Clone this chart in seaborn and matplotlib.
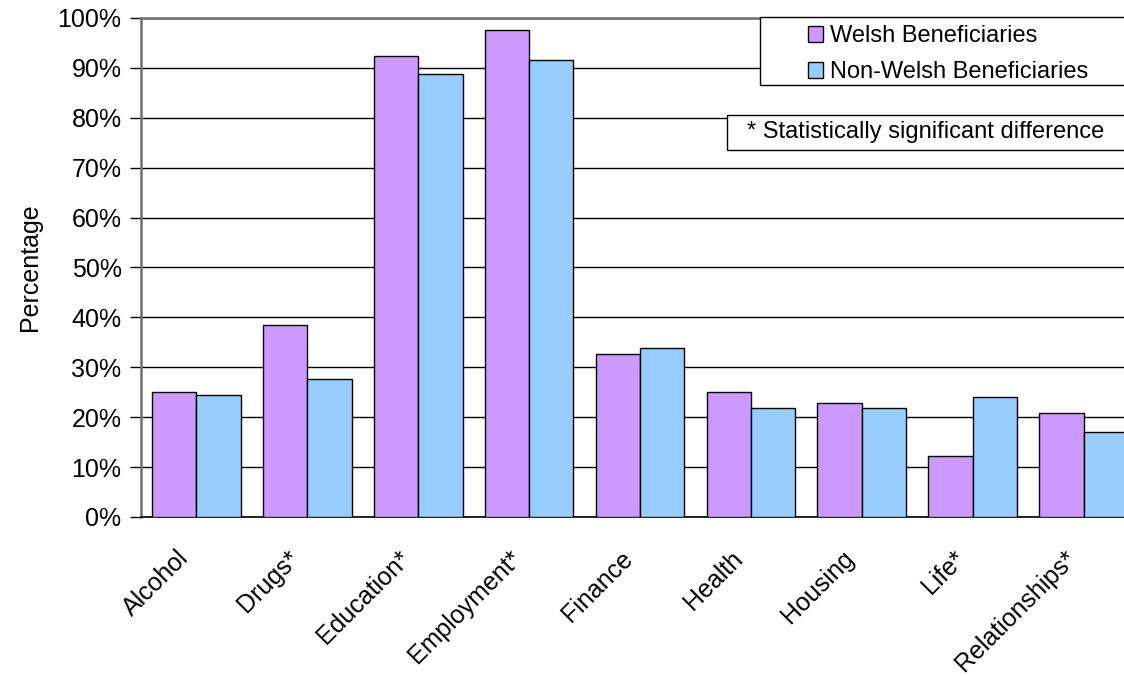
import matplotlib
matplotlib.use('Agg')
import matplotlib.pyplot as plt
import matplotlib.patches as mpatches
import matplotlib.transforms as mtransforms
import seaborn as sns
import pandas as pd
import numpy as np

# chart values (percent)
categories = ['Alcohol', 'Drugs*', 'Education*', 'Employment*', 'Finance',
              'Health', 'Housing', 'Life*', 'Relationships*']
welsh = [25.0, 38.4, 92.4, 97.6, 32.6, 25.0, 22.8, 12.2, 20.8]
non_welsh = [24.4, 27.6, 88.7, 91.5, 33.8, 21.9, 21.8, 24.0, 17.1]
series_names = ['Welsh Beneficiaries', 'Non-Welsh Beneficiaries']
colors = ['#CC99FF', '#99CCFF']

df = pd.DataFrame({
    'Category': categories * 2,
    'Value': welsh + non_welsh,
    'Series': [series_names[0]] * len(categories) + [series_names[1]] * len(categories),
})

sns.set_style('white')
plt.rcParams['font.family'] = ['Liberation Sans', 'DejaVu Sans']
plt.rcParams['text.color'] = 'black'
plt.rcParams['axes.labelcolor'] = 'black'
plt.rcParams['xtick.labelcolor'] = 'black'
plt.rcParams['ytick.labelcolor'] = 'black'

W, H = 1124, 676
fig = plt.figure(figsize=(W / 100, H / 100), dpi=100)
# plot area runs past the right edge of the picture, like the original
ax = fig.add_axes([141 / W, 1 - 517 / H, (1139 - 141) / W, (517 - 18) / H])

sns.barplot(data=df, x='Category', y='Value', hue='Series', palette=colors,
            order=categories, hue_order=series_names, width=0.8,
            edgecolor='black', linewidth=1, saturation=1, ax=ax, legend=False, zorder=3)

ax.set_xlim(-0.5, len(categories) - 0.5)
ax.set_ylim(0, 100)
ax.set_yticks(np.arange(0, 101, 10))
ax.set_yticklabels([f'{v}%' for v in range(0, 101, 10)], fontsize=18)
ax.yaxis.grid(True, color='black', linewidth=1)
ax.set_axisbelow(True)

# category labels at centres, ticks at the boundaries
ax.set_xticks(range(len(categories)))
ax.set_xticklabels(categories, fontsize=18, rotation=45, ha='right',
                   rotation_mode='anchor', va='top')
ax.tick_params(axis='x', which='major', length=0, pad=21, labelcolor='black')
shift = mtransforms.ScaledTranslation(-20 / 100, 0, fig.dpi_scale_trans)
for lab in ax.get_xticklabels():
    lab.set_transform(lab.get_transform() + shift)
ax.set_xticks(np.arange(-0.5, len(categories), 1), minor=True)
ax.tick_params(axis='x', which='minor', length=7, width=1.5, color='#808080', direction='out')
ax.tick_params(axis='y', length=8, width=1, color='black', direction='out', left=True, pad=6,
               labelcolor='black')

for s in ['left', 'top']:
    ax.spines[s].set_color('#707070')
    ax.spines[s].set_linewidth(1.8)
ax.spines['right'].set_visible(False)
ax.spines['bottom'].set_color('black')
ax.spines['bottom'].set_linewidth(1.2)

ax.set_xlabel('')
ax.set_ylabel('Percentage', fontsize=18, labelpad=11, color='black')

# legend box
fig.patches.append(mpatches.Rectangle((760 / W, 1 - 85 / H), 400 / W, 68 / H,
                                      transform=fig.transFigure, facecolor='white',
                                      edgecolor='black', linewidth=1, zorder=5))
handles = [mpatches.Patch(facecolor=c, edgecolor='black', linewidth=1, label=n)
           for c, n in zip(colors, series_names)]
leg = fig.legend(handles=handles, loc='center left', bbox_to_anchor=(789 / W, 1 - 54 / H),
                 frameon=False, fontsize=17, handlelength=0.65, handleheight=0.65,
                 handletextpad=0.3, labelspacing=0.6, borderpad=0.3, labelcolor='black')
leg.set_zorder(6)

# significance note box
fig.patches.append(mpatches.Rectangle((727 / W, 1 - 150 / H), 420 / W, 35 / H,
                                      transform=fig.transFigure, facecolor='white',
                                      edgecolor='black', linewidth=1, zorder=5))
fig.text(747 / W, 1 - 132 / H, '* Statistically significant difference',
         fontsize=17, ha='left', va='center', zorder=6, color='black')

fig.savefig('out.png', dpi=100)
